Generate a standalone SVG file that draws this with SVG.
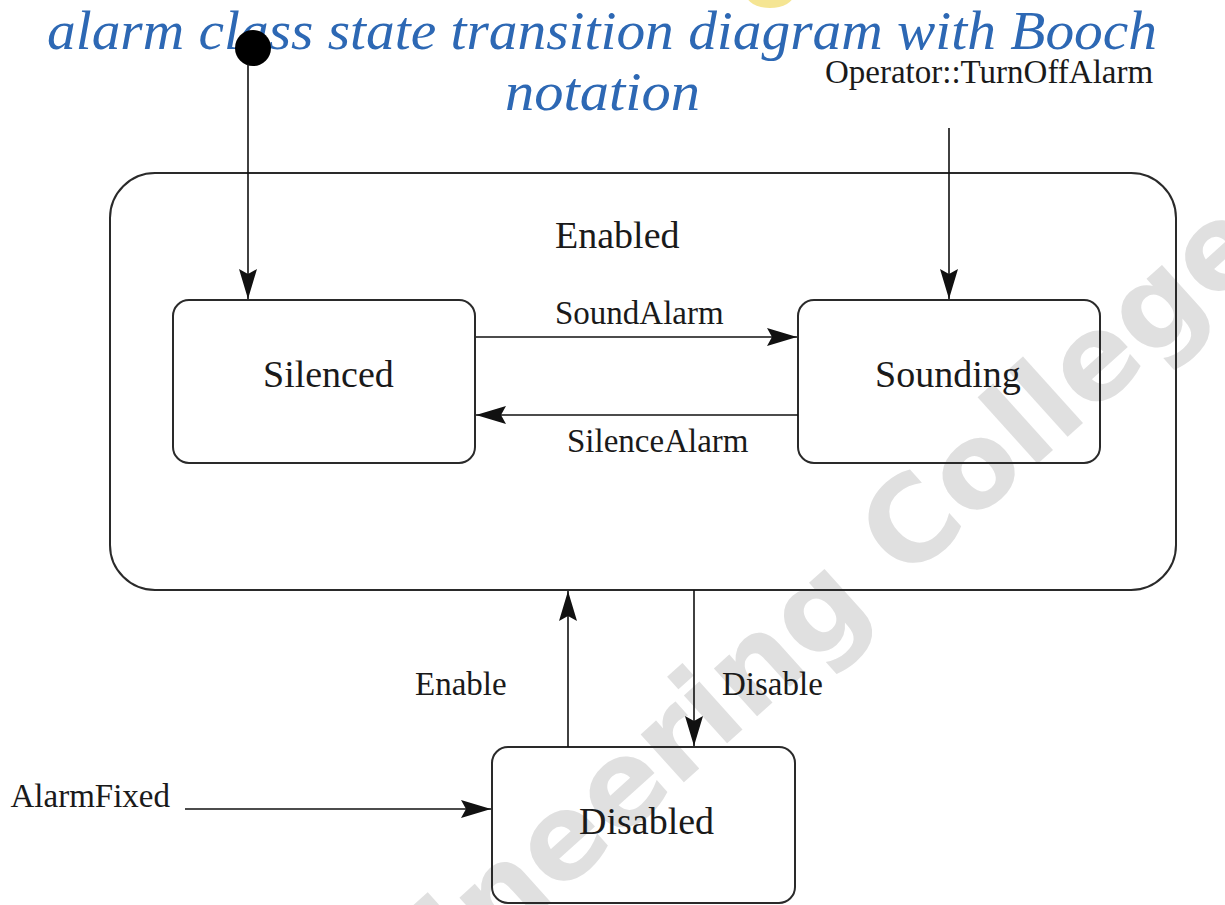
<svg xmlns="http://www.w3.org/2000/svg" width="1225" height="905" viewBox="0 0 1225 905">
  <defs>
    <marker id="arrow" markerUnits="userSpaceOnUse" markerWidth="30" markerHeight="18" refX="30" refY="9" orient="auto">
      <path d="M0,0 L30,9 L0,18 L5,9 z" fill="#111"/>
    </marker>
  </defs>
  <style>
    .title { font-family: "Liberation Serif", serif; font-style: italic; font-size: 55px; fill: #2d68b4; }
    .state { fill: none; stroke: #2a2a2a; stroke-width: 2; }
    .name { font-family: "Liberation Serif", serif; font-size: 38px; fill: #1a1a1a; }
    .label { font-family: "Liberation Serif", serif; font-size: 33px; fill: #1a1a1a; }
    .edge { fill: none; stroke: #111; stroke-width: 1.6; marker-end: url(#arrow); }
    .mark { font-family: "DejaVu Sans", sans-serif; font-weight: bold; font-size: 118px; fill: #e0e0e0; }
  </style>

  <rect width="1225" height="905" fill="#ffffff"/>

  <!-- faint background lettering -->
  <text class="mark" transform="translate(280,1146) rotate(-42)">Engineering College</text>
  <ellipse cx="770" cy="-6" rx="24" ry="14" fill="#f2df78" opacity="0.8"/>

  <!-- heading -->
  <text class="title" x="47" y="49" textLength="1110" lengthAdjust="spacingAndGlyphs">alarm class state transition diagram with Booch</text>
  <text class="title" x="505" y="110" textLength="195" lengthAdjust="spacingAndGlyphs">notation</text>

  <!-- states -->
  <g id="enabled">
    <rect class="state" x="110" y="173" width="1066" height="417" rx="45" ry="45"/>
    <text class="name" x="555" y="248">Enabled</text>
  </g>
  <g id="silenced">
    <rect class="state" x="173" y="300" width="302" height="163" rx="16" ry="16"/>
    <text class="name" x="263" y="387">Silenced</text>
  </g>
  <g id="sounding">
    <rect class="state" x="798" y="300" width="302" height="163" rx="16" ry="16"/>
    <text class="name" x="875" y="387">Sounding</text>
  </g>
  <g id="disabled">
    <rect class="state" x="492" y="747" width="303" height="156" rx="16" ry="16"/>
    <text class="name" x="579" y="834">Disabled</text>
  </g>
  <g id="initial">
    <circle cx="253" cy="48" r="18" fill="#000"/>
  </g>

  <!-- transitions -->
  <g id="connectors">
    <line class="edge" x1="248" y1="64" x2="248" y2="299"/>
    <line class="edge" x1="949" y1="128" x2="949" y2="299"/>
    <line class="edge" x1="476" y1="337" x2="797" y2="337"/>
    <line class="edge" x1="798" y1="415" x2="476" y2="415"/>
    <line class="edge" x1="694" y1="590" x2="694" y2="746"/>
    <line class="edge" x1="568" y1="747" x2="568" y2="591"/>
    <line class="edge" x1="185" y1="809" x2="491" y2="809"/>
  </g>

  <!-- transition labels -->
  <g id="labels">
    <text class="label" x="825" y="83">Operator::TurnOffAlarm</text>
    <text class="label" x="555" y="324">SoundAlarm</text>
    <text class="label" x="567" y="452">SilenceAlarm</text>
    <text class="label" x="415" y="695">Enable</text>
    <text class="label" x="722" y="695">Disable</text>
    <text class="label" x="170" y="807" text-anchor="end">AlarmFixed</text>
  </g>
</svg>
